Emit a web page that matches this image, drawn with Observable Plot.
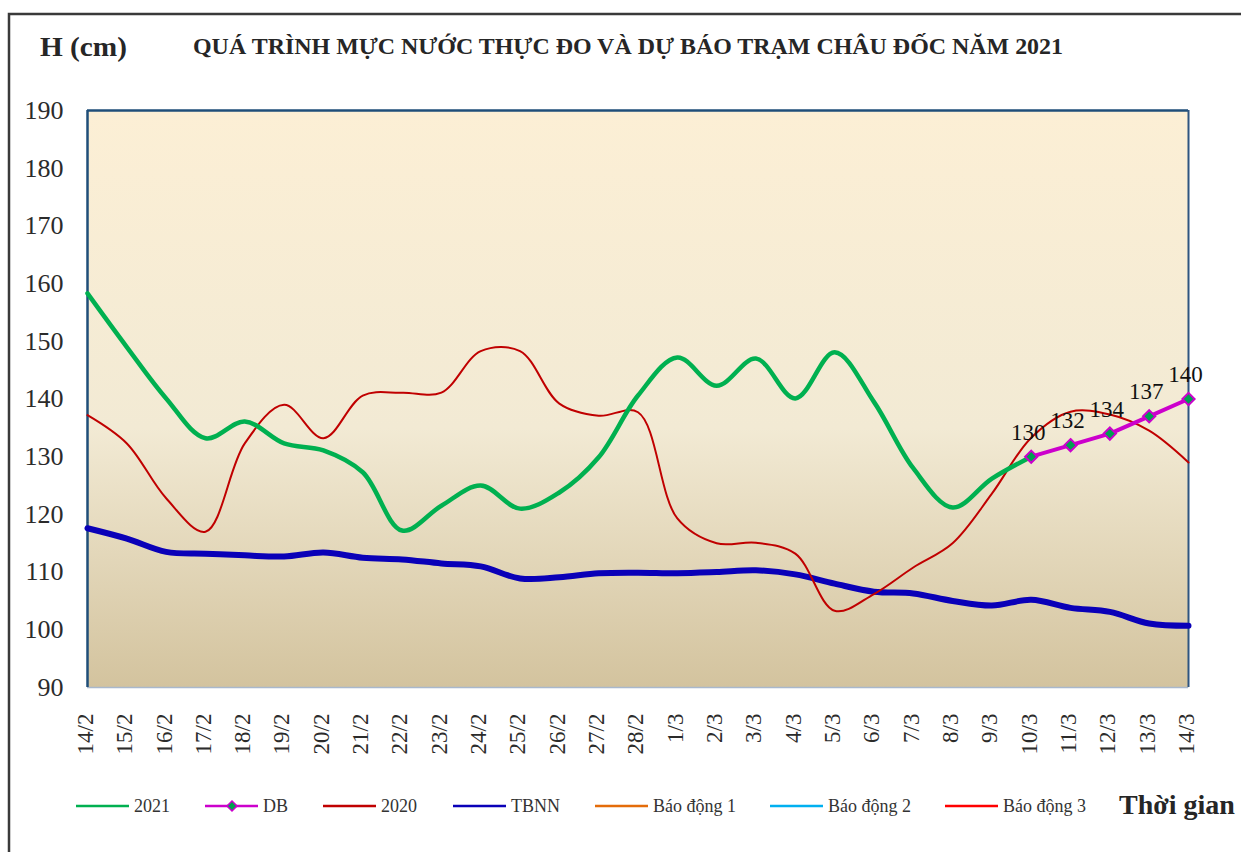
<!DOCTYPE html>
<html><head><meta charset="utf-8">
<script src="https://cdn.jsdelivr.net/npm/d3@7"></script>
<script src="https://cdn.jsdelivr.net/npm/@observablehq/plot@0.6"></script>
<style>body{margin:0;background:#fff;} #chart{position:relative;width:1241px;height:852px;}</style>
</head><body><div id="chart"></div>
<script>
// ---- data ----
const days = ["14/2","15/2","16/2","17/2","18/2","19/2","20/2","21/2","22/2","23/2","24/2","25/2","26/2","27/2","28/2",
  "1/3","2/3","3/3","4/3","5/3","6/3","7/3","8/3","9/3","10/3","11/3","12/3","13/3","14/3"];
const h2021 = [158.3,149.0,140.1,133.2,136.1,132.3,131.1,127.3,117.2,121.5,
  125.0,121.0,123.8,129.9,140.6,147.2,142.3,147.0,140.1,148.1,
  139.5,128.0,121.2,126.2,130.0];
const h2020 = [137.2,132.3,122.8,117.0,132.3,139.0,133.2,140.6,141.1,141.1,
  148.3,148.3,139.2,137.1,137.7,119.3,115.0,115.1,113.2,103.3,
  106.2,110.8,115.0,123.6,133.3,137.8,137.3,134.5,129.0];
const tbnn = [117.6,115.8,113.5,113.2,112.9,112.7,113.4,112.5,112.2,111.5,
  111.0,108.9,109.1,109.8,109.9,109.8,110.0,110.3,109.6,108.0,
  106.6,106.3,105.0,104.2,105.2,103.8,103.1,101.1,100.7];
const dbDays = ["10/3","11/3","12/3","13/3","14/3"];
const dbValues = [130,132,134,137,140];
const yTicks = [90,100,110,120,130,140,150,160,170,180,190];
const legendLabels = ["2021","DB","2020","TBNN","Báo động 1","Báo động 2","Báo động 3"];
const legendColors = ["#00b050","#cc00cc","#c00000","#0a00b8","#e46c0a","#00b0f0","#ff0000"];
const titleText = "QUÁ TRÌNH MỰC NƯỚC THỰC ĐO VÀ DỰ BÁO TRẠM CHÂU ĐỐC NĂM 2021";
const yTitle = "H (cm)";
const xTitle = "Thời gian";

// ---- build tables ----
const rows2021 = h2021.map((v,i)=>({day:days[i], v}));
const rows2020 = h2020.map((v,i)=>({day:days[i], v}));
const rowsTBNN = tbnn.map((v,i)=>({day:days[i], v}));
const rowsDB = dbDays.map((d,i)=>({day:d, v:dbValues[i]}));

const FONT = "'Liberation Serif','Times New Roman',serif";
const curve = "catmull-rom";

const plot = Plot.plot({
  width:1241, height:852,
  marginLeft:87, marginRight:53, marginTop:110, marginBottom:165,
  style:{fontFamily:FONT, background:"transparent", color:"#2b2b2b", overflow:"visible"},
  x:{type:"point", domain:days, padding:0, round:false},
  y:{domain:[90,190]},
  marks:[
    Plot.frame({fill:"url(#bgGrad)", stroke:"none"}),
    Plot.ruleY([90], {stroke:"#a9b8cc", strokeWidth:1.5}),
    Plot.ruleY([190], {stroke:"#1f4e79", strokeWidth:2.5}),
    Plot.ruleX([days[0]], {stroke:"#1f4e79", strokeWidth:2.5}),
    Plot.ruleX([days[days.length-1]], {stroke:"#2e5580", strokeWidth:2}),
    Plot.axisY({ticks:yTicks, tickSize:0, tickPadding:24, fontSize:26, label:null, tickFormat:d=>String(d)}),
    Plot.axisX({tickRotate:-90, tickSize:0, tickPadding:26, fontSize:23, label:null, dx:-2}),
    Plot.line(rowsTBNN, {x:"day", y:"v", stroke:"#0a00b8", strokeWidth:6, curve}),
    Plot.line(rows2020, {x:"day", y:"v", stroke:"#c00000", strokeWidth:2, curve}),
    Plot.line(rows2021, {x:"day", y:"v", stroke:"#00b050", strokeWidth:4.5, curve}),
    Plot.line(rowsDB, {x:"day", y:"v", stroke:"#cc00cc", strokeWidth:4}),
    Plot.dot(rowsDB, {x:"day", y:"v", symbol:"diamond2", r:5.5, fill:"#00a050", stroke:"#cc00cc", strokeWidth:2}),
    Plot.text(rowsDB, {x:"day", y:"v", text:d=>String(d.v), lineAnchor:"bottom", dy:-17, dx:-3, fontSize:23, fill:"#111"})
  ]
});

const svg = d3.select(plot);
const defs = svg.insert("defs", ":first-child");
const lg = defs.append("linearGradient").attr("id","bgGrad").attr("x1",0).attr("y1",0).attr("x2",0).attr("y2",1);
lg.append("stop").attr("offset","0%").attr("stop-color","#fcefd5");
lg.append("stop").attr("offset","55%").attr("stop-color","#f2ead4");
lg.append("stop").attr("offset","100%").attr("stop-color","#d3c39e");

// outer border
svg.append("path").attr("d","M1245,14 H9 V856").attr("fill","none").attr("stroke","#3a3a3a").attr("stroke-width",2.5);

const txt = (x, y, s, size, opts={}) => {
  const t = svg.append("text").attr("x",x).attr("y",y).attr("text-anchor","start")
    .attr("font-family",FONT).attr("font-size",size).attr("fill",opts.fill||"#262626").text(s);
  if (opts.bold) t.attr("font-weight","bold");
  if (opts.len) t.attr("textLength",opts.len).attr("lengthAdjust","spacingAndGlyphs");
  return t;
};

// titles
txt(40, 56, yTitle, 28, {bold:true, len:87});
txt(193, 54, titleText, 23, {bold:true, len:870});

// legend
const legX = [76,205,323,453,595,770,945];
const legY = 806;
legendLabels.forEach((lab,i)=>{
  const x0 = legX[i];
  svg.append("line").attr("x1",x0).attr("x2",x0+53).attr("y1",legY).attr("y2",legY)
    .attr("stroke",legendColors[i]).attr("stroke-width",2.5);
  if (lab === "DB") {
    const cx = x0+27;
    svg.append("path").attr("d",`M${cx},${legY-5}L${cx+5},${legY}L${cx},${legY+5}L${cx-5},${legY}Z`)
      .attr("fill","#00a050").attr("stroke","#cc00cc").attr("stroke-width",1.5);
  }
  txt(x0+58, legY+6, lab, 18, {fill:"#333"});
});
txt(1119, 814, xTitle, 28, {bold:true});

document.getElementById("chart").appendChild(plot);
</script>
</body></html>
